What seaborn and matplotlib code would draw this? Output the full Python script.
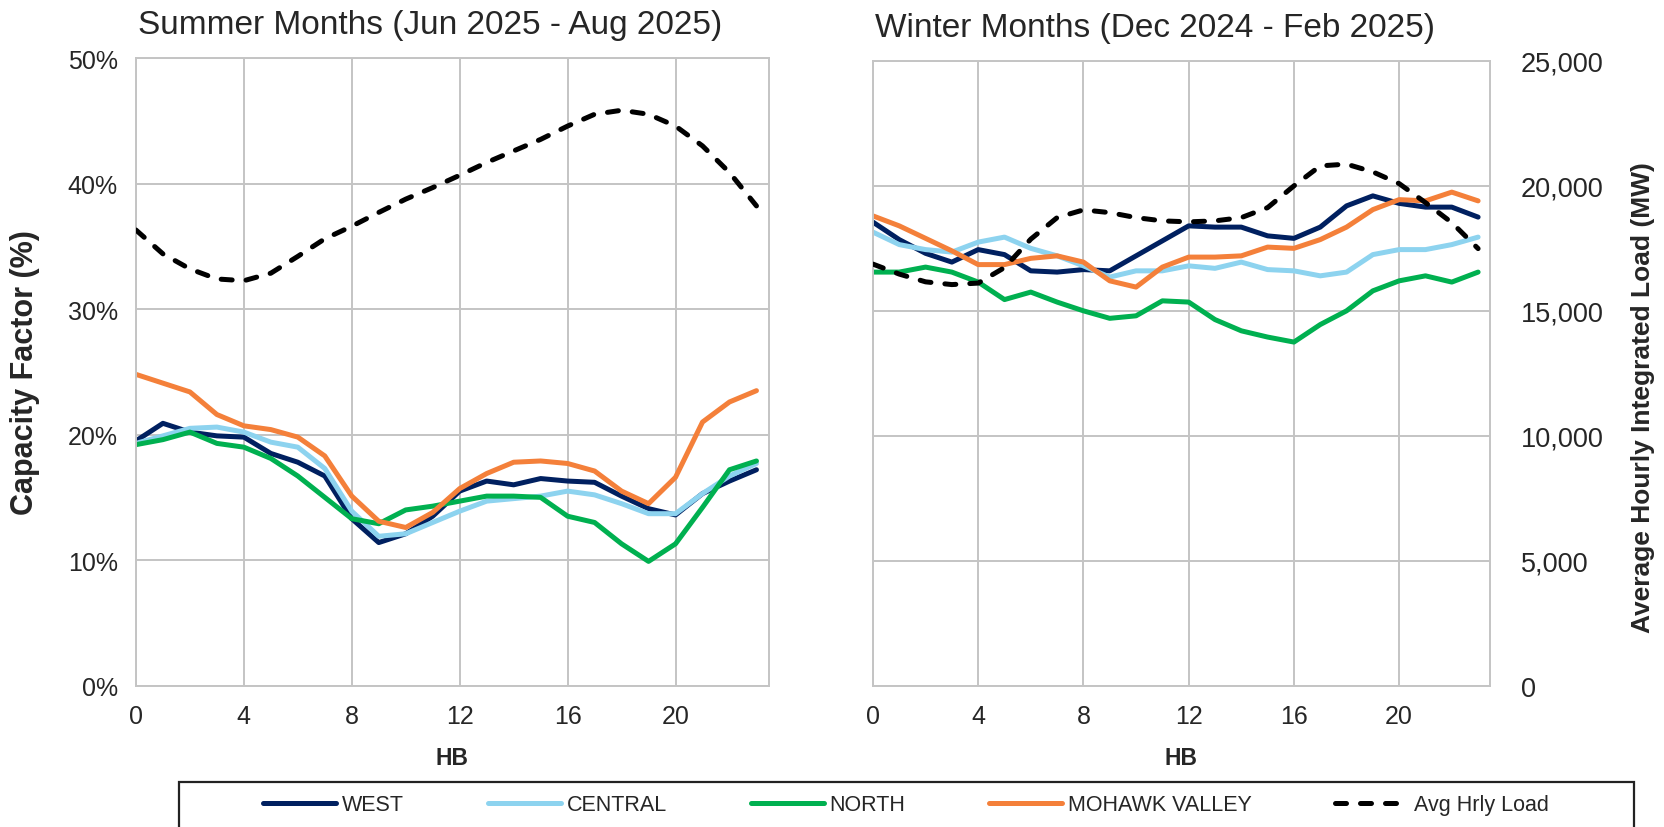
import numpy as np
import pandas as pd
import seaborn as sns
import matplotlib.pyplot as plt
from matplotlib.patches import Rectangle
from matplotlib.ticker import FuncFormatter

# Hour-beginning values
hours = list(range(24))
zones = ['WEST', 'CENTRAL', 'NORTH', 'MOHAWK VALLEY']
zone_colors = ['#002060', '#8DD3EF', '#00B050', '#F4803A']

# Summer (Jun 2025 - Aug 2025) capacity factor, %
summer_west = [19.5, 20.9, 20.2, 19.9, 19.8, 18.5, 17.8, 16.7, 13.3, 11.4, 12.1, 13.5,
               15.5, 16.3, 16.0, 16.5, 16.3, 16.2, 15.1, 14.1, 13.6, 15.3, 16.3, 17.2]
summer_central = [19.3, 19.9, 20.5, 20.6, 20.2, 19.4, 19.0, 17.3, 13.9, 11.9, 12.1, 13.0,
                  13.9, 14.7, 14.9, 15.1, 15.5, 15.2, 14.5, 13.7, 13.7, 15.3, 16.7, 17.7]
summer_north = [19.2, 19.6, 20.2, 19.3, 19.0, 18.1, 16.7, 15.0, 13.3, 12.9, 14.0, 14.3,
                14.7, 15.1, 15.1, 15.0, 13.5, 13.0, 11.3, 9.9, 11.3, 14.2, 17.2, 17.9]
summer_mohawk = [24.8, 24.1, 23.4, 21.6, 20.7, 20.4, 19.8, 18.3, 15.1, 13.1, 12.6, 13.8,
                 15.7, 16.9, 17.8, 17.9, 17.7, 17.1, 15.5, 14.5, 16.6, 21.0, 22.6, 23.5]
summer_load = [18150, 17200, 16600, 16200, 16130, 16430, 17100, 17800, 18300, 18850, 19380, 19840,
               20330, 20840, 21300, 21760, 22290, 22760, 22920, 22760, 22290, 21500, 20440, 19110]

# Winter (Dec 2024 - Feb 2025) capacity factor, %
winter_west = [37.1, 35.7, 34.6, 33.9, 34.9, 34.5, 33.2, 33.1, 33.3, 33.2, 34.4, 35.6,
               36.8, 36.7, 36.7, 36.0, 35.8, 36.7, 38.4, 39.2, 38.6, 38.3, 38.3, 37.5]
winter_central = [36.3, 35.3, 34.9, 34.7, 35.5, 35.9, 35.0, 34.4, 33.6, 32.7, 33.2, 33.2,
                  33.6, 33.4, 33.9, 33.3, 33.2, 32.8, 33.1, 34.5, 34.9, 34.9, 35.3, 35.9]
winter_north = [33.1, 33.1, 33.5, 33.1, 32.3, 30.9, 31.5, 30.7, 30.0, 29.4, 29.6, 30.8,
                30.7, 29.3, 28.4, 27.9, 27.5, 28.9, 30.0, 31.6, 32.4, 32.8, 32.3, 33.1]
winter_mohawk = [37.6, 36.8, 35.8, 34.8, 33.7, 33.7, 34.2, 34.4, 33.9, 32.4, 31.9, 33.5,
                 34.3, 34.3, 34.4, 35.1, 35.0, 35.7, 36.7, 38.1, 38.9, 38.8, 39.5, 38.8]
winter_load = [16870, 16470, 16160, 16050, 16110, 16730, 17870, 18730, 19040, 18930, 18730, 18600,
               18560, 18600, 18730, 19130, 20000, 20800, 20870, 20560, 20090, 19330, 18530, 17490]

panel_titles = ['Summer Months (Jun 2025 - Aug 2025)', 'Winter Months (Dec 2024 - Feb 2025)']


def long_frame(series):
    rows = []
    for zone, vals in zip(zones, series):
        for h, v in zip(hours, vals):
            rows.append({'HB': h, 'zone': zone, 'cf': v})
    return pd.DataFrame(rows)


summer_df = long_frame([summer_west, summer_central, summer_north, summer_mohawk])
winter_df = long_frame([winter_west, winter_central, winter_north, winter_mohawk])

sns.set_style('white')
plt.rcParams['font.family'] = ['Liberation Sans', 'DejaVu Sans']

fig = plt.figure(figsize=(16.64, 8.28), dpi=100)
ax_s = fig.add_axes([0.0817, 0.1707, 0.3802, 0.758])
ax_w = fig.add_axes([0.5246, 0.1707, 0.3708, 0.7545])

grid_c = '#C4C4C4'
tick_fs = 18

twins = []
for ax, df, load, title in [(ax_s, summer_df, summer_load, panel_titles[0]),
                            (ax_w, winter_df, winter_load, panel_titles[1])]:
    sns.lineplot(data=df, x='HB', y='cf', hue='zone', hue_order=zones,
                 palette=zone_colors, linewidth=3.6, legend=False, ax=ax)
    ax.set_xlim(0, 23.45)
    ax.set_ylim(0, 50)
    ax.set_xticks(range(0, 24, 4))
    ax.set_yticks(range(0, 51, 10))
    ax.grid(True, color=grid_c, linewidth=1.4)
    for sp in ax.spines.values():
        sp.set_color(grid_c)
        sp.set_linewidth(1.4)
    ax.tick_params(axis='both', length=0, labelsize=tick_fs, pad=13)
    ax.set_xlabel('HB', fontsize=16.5, fontweight='bold', labelpad=13)
    ax.set_title(title, fontsize=24, loc='left', x=0.004, pad=18)

    tw = ax.twinx()
    sns.lineplot(x=hours, y=load, color='black', linewidth=3.6, ax=tw,
                 linestyle=(0, (2.2, 2.8)), dash_capstyle='round')
    tw.set_ylim(0, 25000)
    tw.set_xlim(0, 23.45)
    for sp in tw.spines.values():
        sp.set_visible(False)
    tw.grid(False)
    twins.append(tw)

ax_s.yaxis.set_major_formatter(FuncFormatter(lambda v, p: f'{v:.0f}%'))
ax_s.set_ylabel('Capacity Factor (%)', fontsize=22, fontweight='bold', labelpad=20)
ax_w.set_yticklabels([])
ax_w.set_ylabel('')

tw_s, tw_w = twins
tw_s.set_yticks([])
tw_s.set_ylabel('')
tw_w.set_yticks(range(0, 25001, 5000))
tw_w.yaxis.set_major_formatter(FuncFormatter(lambda v, p: f'{v:,.0f}'))
tw_w.tick_params(axis='y', length=0, labelsize=19.5, pad=22)
tw_w.set_ylabel('Average Hourly Integrated Load (MW)', fontsize=19, fontweight='bold',
                labelpad=20)
tw_w.yaxis.label.set_y(0.462)

# Legend box (open at the bottom edge of the figure) and centred entries
fig.patches.append(Rectangle((179 / 1664, -0.05), 1455 / 1664, 0.05 + (1 - 783 / 828),
                             transform=fig.transFigure, fill=False,
                             edgecolor='#222222', linewidth=1.6))
handles = list(ax_s.get_lines()[:4]) + [tw_w.get_lines()[0]]
labels = zones + ['Avg Hrly Load']
leg = fig.legend(handles, labels, loc='center', ncol=5,
                 bbox_to_anchor=(906 / 1664, 1 - 806 / 828), fontsize=15.5,
                 frameon=False, handlelength=3.4, handletextpad=0.25,
                 columnspacing=3.9, borderaxespad=0)

fig.savefig('out.png', dpi=100)
